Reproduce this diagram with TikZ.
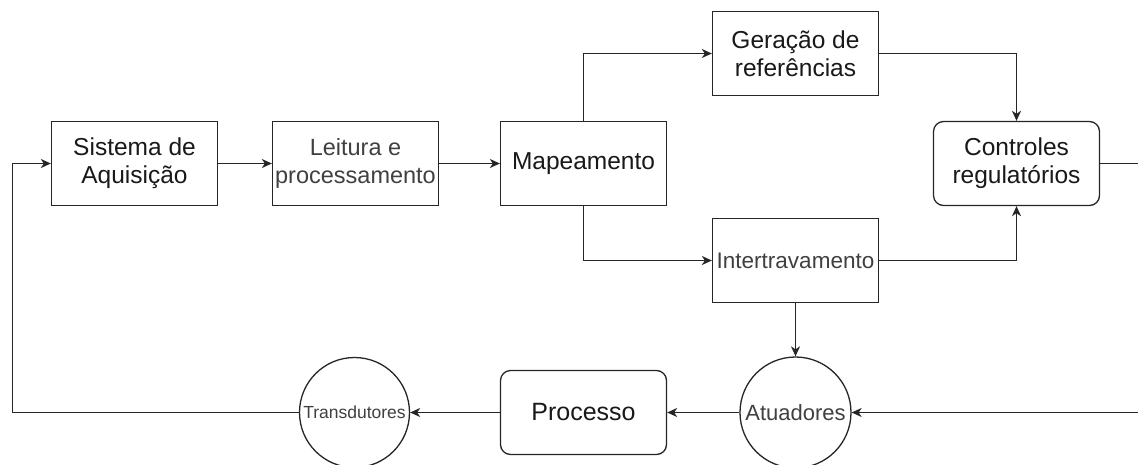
\documentclass[tikz,border=0pt]{standalone}
\usepackage{fontspec}
\setmainfont{Liberation Sans}
\usetikzlibrary{arrows.meta}
\begin{document}
\begin{tikzpicture}[x=1pt,y=-1pt,
  line width=1.3pt, draw=black!85,
  lbl/.style={font=\fontsize{24.5}{28}\selectfont, align=center, text=black!90},
  soft/.style={text=black!75},
  block/.style={lbl, draw=black!85, rectangle, minimum width=166pt, minimum height=84pt, inner sep=0pt},
  rblock/.style={block, rounded corners=10pt},
  disc/.style={lbl, draw=black!85, circle, minimum size=111pt, inner sep=0pt},
  flow/.style={-{Stealth[length=10pt,width=9pt,inset=3pt]}}]
\clip (0,0) rectangle (1138,464);
\fill[white] (0,0) rectangle (1138,464);

% upper chain of blocks
\node[block] (sis) at (134.5,163.5) {Sistema de\\Aquisição};
\node[block, soft, font=\fontsize{23.5}{28}\selectfont] (lei) at (355.5,163.5) {Leitura e\\processamento};
\node[block] (map) at (583.5,163.5) {Mapeamento};
\node[block] (ger) at (795.5,53.5) {Geração de\\referências};
\node[block, soft, font=\fontsize{22.5}{28}\selectfont] (int) at (795.5,260.5) {Intertravamento};
\node[rblock] (ctl) at (1016.5,163.5) {Controles\\regulatórios};

% lower row
\node[disc, soft, font=\fontsize{22}{26}\selectfont] (atu) at (795.5,412.5) {Atuadores};
\node[rblock, font=\fontsize{25}{28}\selectfont] (pro) at (583.5,412.5) {Processo};
\node[disc, soft, minimum size=110pt, font=\fontsize{17.5}{20}\selectfont] (tra) at (354.5,412.5) {Transdutores};

% free ends at the right border and the left return path
\coordinate (outR) at (1138,163.5);
\coordinate (inR) at (1138,412.5);
\coordinate (loopL) at (12.5,412.5);

% connectors
\draw[flow] (sis) -- (lei);
\draw[flow] (lei) -- (map);
\draw[flow] (map.north) |- (ger.west);
\draw[flow] (map.south) |- (int.west);
\draw[flow] (ger.east) -| (ctl.north);
\draw[flow] (int.east) -| (ctl.south);
\draw[flow] (int.south) -- (atu.north);
\draw (ctl.east) -- (outR);
\draw[flow] (inR) -- (atu.east);
\draw[flow] (atu.west) -- (pro.east);
\draw[flow] (pro.west) -- (tra.east);
\draw[flow] (tra.west) -- (loopL) |- (sis.west);
\end{tikzpicture}
\end{document}
